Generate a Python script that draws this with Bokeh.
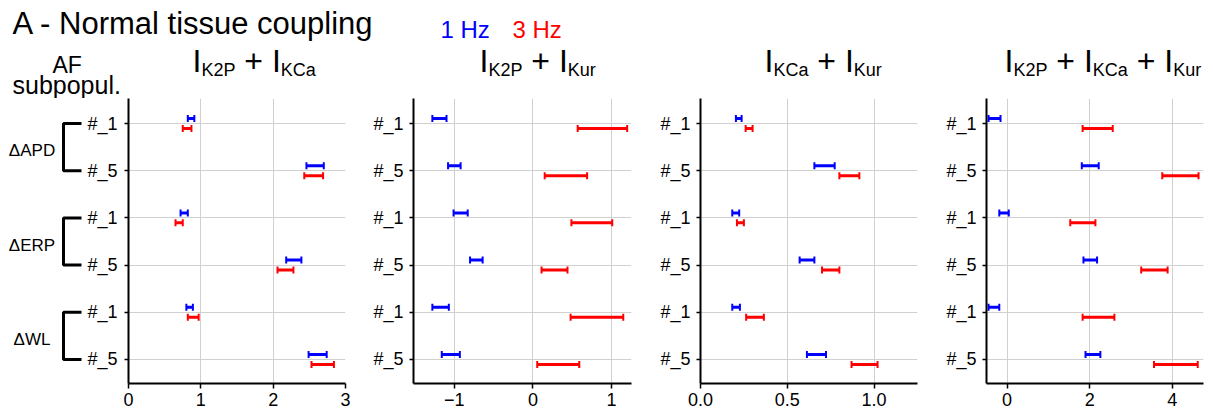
import numpy as np
from bokeh.plotting import figure
from bokeh.models import Range1d, ColumnDataSource, Whisker, TeeHead, FixedTicker
from bokeh.layouts import row, column
from bokeh.embed import file_html
from bokeh.resources import INLINE
from bokeh.core.properties import value

FONT = "Liberation Sans"
BLUE = "#0000ff"
RED = "#ff0000"
GRID = "#d0d0d0"

# ---------------- data ----------------
title_text = "A - Normal tissue coupling"
freq_labels = ["1 Hz", "3 Hz"]
side_labels = ["AF", "subpopul."]
groups = ["ΔAPD", "ΔERP", "ΔWL"]
row_labels = ["#_1", "#_5", "#_1", "#_5", "#_1", "#_5"]
panel_terms = [["K2P", "KCa"], ["K2P", "Kur"], ["KCa", "Kur"], ["K2P", "KCa", "Kur"]]

# rows: APD#_1, APD#_5, ERP#_1, ERP#_5, WL#_1, WL#_5
k2p_kca_1hz_lo = [0.82, 2.46, 0.72, 2.18, 0.80, 2.49]
k2p_kca_1hz_hi = [0.91, 2.70, 0.82, 2.39, 0.89, 2.74]
k2p_kca_3hz_lo = [0.75, 2.43, 0.65, 2.06, 0.82, 2.53]
k2p_kca_3hz_hi = [0.87, 2.69, 0.75, 2.28, 0.97, 2.84]

k2p_kur_1hz_lo = [-1.28, -1.08, -1.01, -0.80, -1.28, -1.16]
k2p_kur_1hz_hi = [-1.10, -0.92, -0.83, -0.64, -1.07, -0.93]
k2p_kur_3hz_lo = [0.57, 0.15, 0.49, 0.11, 0.48, 0.055]
k2p_kur_3hz_hi = [1.20, 0.69, 1.01, 0.44, 1.15, 0.59]

kca_kur_1hz_lo = [0.204, 0.656, 0.183, 0.571, 0.183, 0.613]
kca_kur_1hz_hi = [0.237, 0.773, 0.223, 0.656, 0.227, 0.723]
kca_kur_3hz_lo = [0.26, 0.80, 0.21, 0.70, 0.263, 0.87]
kca_kur_3hz_hi = [0.30, 0.915, 0.25, 0.80, 0.365, 1.02]

all3_1hz_lo = [-0.45, 1.81, -0.19, 1.85, -0.45, 1.90]
all3_1hz_hi = [-0.16, 2.22, 0.04, 2.18, -0.19, 2.26]
all3_3hz_lo = [1.83, 3.76, 1.53, 3.25, 1.83, 3.56]
all3_3hz_hi = [2.56, 4.64, 2.14, 3.89, 2.60, 4.62]

x_ticks = [[0, 1, 2, 3], [-1, 0, 1], [0, 0.5, 1.0], [0, 2, 4]]
x_tick_labels = [["0", "1", "2", "3"], ["\u22121", "0", "1"], ["0.0", "0.5", "1.0"], ["0", "2", "4"]]
x_limits = [(0, 3), (-1.52, 1.255), (0, 1.25), (-0.5, 4.76)]

panels = [
    (k2p_kca_1hz_lo, k2p_kca_1hz_hi, k2p_kca_3hz_lo, k2p_kca_3hz_hi),
    (k2p_kur_1hz_lo, k2p_kur_1hz_hi, k2p_kur_3hz_lo, k2p_kur_3hz_hi),
    (kca_kur_1hz_lo, kca_kur_1hz_hi, kca_kur_3hz_lo, kca_kur_3hz_hi),
    (all3_1hz_lo, all3_1hz_hi, all3_3hz_lo, all3_3hz_hi),
]

# ---------------- layout constants ----------------
W, H = 1213, 415
HEAD_H = 98
ROW_H = H - HEAD_H
rows_idx = list(range(len(row_labels)))
Y_BOTTOM, Y_TOP = 5.51, -0.53
OFF = 0.105


def base_fig(**kw):
    p = figure(toolbar_location=None, output_backend="svg", **kw)
    p.outline_line_color = None
    return p


def put_text(p, x, y, text, size, color="black", align="left"):
    p.text(x=x, y=y, text=text, text_font=value(FONT), text_font_size=size,
           text_baseline="middle", text_align=align, text_color=color)


# ---------------- header (pixel coordinates) ----------------
head = base_fig(width=W, height=HEAD_H, x_range=Range1d(0, W), y_range=Range1d(HEAD_H, 0),
                min_border=0, x_axis_location=None, y_axis_location=None)
head.grid.visible = False

put_text(head, [12], [22.5], [title_text], "31px")
put_text(head, [440, 512], [28.5, 28.5], freq_labels, "24px", color=[BLUE, RED])
put_text(head, [52, 12], [64, 84], side_labels, ["23px", "25px"])

ADV = {"I": .278, "K": .667, "2": .556, "P": .667, "C": .722, "a": .556, "u": .556,
       "r": .333, " ": .278, "+": .584}
BIG, SMALL = 32, 18


def tw(s, size):
    return sum(ADV[c] for c in s) * size


sub_starts = [192, 479, 764, 1004]
big_x, big_t, small_x, small_t = [], [], [], []
for start, terms in zip(sub_starts, panel_terms):
    x = start
    for j, term in enumerate(terms):
        if j > 0:
            big_x.append(x + tw(" ", BIG)); big_t.append("+")
            x += tw(" + ", BIG)
        big_x.append(x); big_t.append("I")
        x += tw("I", BIG)
        small_x.append(x); small_t.append(term)
        x += tw(term, SMALL)
put_text(head, big_x, [60] * len(big_x), big_t, f"{BIG}px")
put_text(head, small_x, [69] * len(small_x), small_t, f"{SMALL}px")

# ---------------- shared y range ----------------
shared_y = Range1d(Y_BOTTOM, Y_TOP)

# ---------------- left label column ----------------
F0_W = 123
f0 = base_fig(width=F0_W, height=ROW_H, x_range=Range1d(0, F0_W), y_range=shared_y,
              min_border_left=0, min_border_right=0, min_border_top=0, min_border_bottom=32,
              x_axis_location=None, y_axis_location=None)
f0.grid.visible = False

# tick labels of the first panel
put_text(f0, [117] * len(rows_idx), rows_idx, row_labels, "18px", align="right")

br_xs, br_ys, g_y = [], [], []
for g in range(len(groups)):
    a, b = rows_idx[2 * g], rows_idx[2 * g + 1]
    br_xs.append([81, 63, 63, 81])
    br_ys.append([a, a, b, b])
    g_y.append((a + b) / 2 + 0.08)
f0.multi_line(xs=br_xs, ys=br_ys, line_color="black", line_width=3)
put_text(f0, [31.5] * len(groups), g_y, groups, "17px", align="center")

# ---------------- panels ----------------
geo = [(237, 5, 15), (280, 53, 9), (290, 60, 13), (283, 56, 10)]
figs = [f0]
for i, (lo1, hi1, lo3, hi3) in enumerate(panels):
    width, left, right = geo[i]
    p = base_fig(width=width, height=ROW_H, x_range=Range1d(*x_limits[i]), y_range=shared_y,
                 min_border_left=left, min_border_right=right, min_border_top=0,
                 min_border_bottom=32)
    xa = p.xaxis[0]
    xa.ticker = FixedTicker(ticks=x_ticks[i])
    xa.major_label_overrides = dict(zip(x_ticks[i], x_tick_labels[i]))
    ya = p.yaxis[0]
    ya.ticker = FixedTicker(ticks=rows_idx)
    if i == 0:
        ya.major_label_overrides = {k: "" for k in rows_idx}
        ya.major_label_standoff = 0
    else:
        ya.major_label_overrides = {k: row_labels[k] for k in rows_idx}
        ya.major_label_standoff = 6
    for ax in (xa, ya):
        ax.axis_line_width = 2
        ax.axis_line_color = "black"
        ax.major_tick_line_color = "black"
        ax.major_tick_line_width = 1.5
        ax.major_tick_in = 0
        ax.minor_tick_line_color = None
        ax.major_label_text_font = FONT
        ax.major_label_text_font_size = "18px"
        ax.major_label_text_color = "black"
    xa.major_tick_out = 5
    xa.major_label_standoff = 4
    ya.major_tick_out = 4
    p.xgrid.ticker = FixedTicker(ticks=x_ticks[i])
    p.ygrid.ticker = FixedTicker(ticks=rows_idx)
    p.grid.grid_line_color = GRID
    p.grid.grid_line_width = 1

    for lo, hi, col, sgn in ((lo1, hi1, BLUE, -1), (lo3, hi3, RED, 1)):
        src = ColumnDataSource(dict(y=[k + sgn * OFF for k in rows_idx], lo=lo, hi=hi))
        w = Whisker(source=src, base="y", lower="lo", upper="hi", dimension="width",
                    line_color=col, line_width=3,
                    lower_head=TeeHead(size=7, line_color=col, line_width=2),
                    upper_head=TeeHead(size=7, line_color=col, line_width=2))
        p.add_layout(w)
    figs.append(p)

layout = column(head, row(*figs, spacing=0), spacing=0)
open("out.html", "w").write(file_html(layout, INLINE))
